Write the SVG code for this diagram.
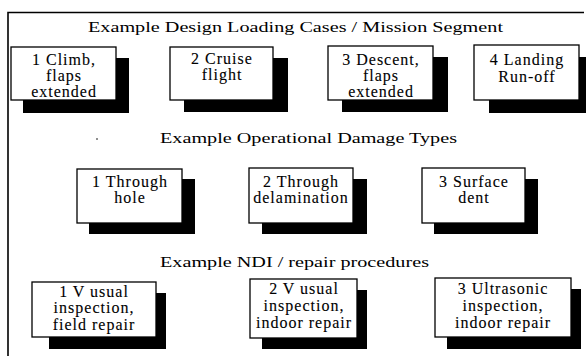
<svg xmlns="http://www.w3.org/2000/svg" width="586" height="356" viewBox="0 0 586 356">
<style>
  .title { font-family: "Liberation Serif", "Times New Roman", serif; font-size: 15.5px; fill: #000; text-anchor: start; }
  .lbl { font-family: "Liberation Serif", "Times New Roman", serif; font-size: 16px; letter-spacing: 1px; fill: #000; stroke: #000; stroke-width: 0.1; text-anchor: middle; }
  .box { fill: #fff; stroke: #000; stroke-width: 1.3; }
  .shadow { fill: #000; }
  .frame { fill: none; stroke: #000; stroke-width: 1.6; }
</style>
<rect x="0" y="0" width="586" height="356" fill="#fff"/>
<path class="frame" d="M8,356 L8,12.5 L584,12.5"/>
<circle cx="97" cy="139" r="0.8" fill="#000"/>

<text class="title" x="88" y="32" textLength="415" lengthAdjust="spacingAndGlyphs">Example Design Loading Cases / Mission Segment</text>
<text class="title" x="160" y="143" textLength="297" lengthAdjust="spacingAndGlyphs">Example Operational Damage Types</text>
<text class="title" x="160" y="267" textLength="269" lengthAdjust="spacingAndGlyphs">Example NDI / repair procedures</text>

<g id="climb">
  <rect class="shadow" x="23" y="58" width="106" height="55"/>
  <rect class="box" x="11" y="47" width="105" height="53"/>
  <text class="lbl" x="64" y="65">1 Climb,</text>
  <text class="lbl" x="64" y="81">flaps</text>
  <text class="lbl" x="64" y="97">extended</text>
</g>
<g id="cruise">
  <rect class="shadow" x="184" y="58" width="104" height="54"/>
  <rect class="box" x="170" y="47" width="103" height="53"/>
  <text class="lbl" x="222" y="64">2 Cruise</text>
  <text class="lbl" x="222" y="80">flight</text>
</g>
<g id="descent">
  <rect class="shadow" x="342" y="57" width="106" height="55"/>
  <rect class="box" x="328" y="46" width="105" height="54"/>
  <text class="lbl" x="381" y="65">3 Descent,</text>
  <text class="lbl" x="381" y="81">flaps</text>
  <text class="lbl" x="381" y="97">extended</text>
</g>
<g id="landing">
  <rect class="shadow" x="489" y="57" width="105" height="56"/>
  <rect class="box" x="474" y="45" width="105" height="55"/>
  <text class="lbl" x="527" y="65">4 Landing</text>
  <text class="lbl" x="527" y="82">Run-off</text>
</g>

<g id="hole">
  <rect class="shadow" x="89" y="179" width="106" height="55"/>
  <rect class="box" x="77" y="169" width="105" height="54"/>
  <text class="lbl" x="130" y="187">1 Through</text>
  <text class="lbl" x="130" y="203">hole</text>
</g>
<g id="delamination">
  <rect class="shadow" x="262" y="179" width="105" height="55"/>
  <rect class="box" x="249" y="168" width="104" height="55"/>
  <text class="lbl" x="301" y="187">2 Through</text>
  <text class="lbl" x="301" y="203">delamination</text>
</g>
<g id="dent">
  <rect class="shadow" x="434" y="179" width="104" height="55"/>
  <rect class="box" x="422" y="168" width="103" height="55"/>
  <text class="lbl" x="474" y="187">3 Surface</text>
  <text class="lbl" x="474" y="203">dent</text>
</g>

<g id="field">
  <rect class="shadow" x="49" y="293" width="117" height="56"/>
  <rect class="box" x="32" y="282" width="124" height="55"/>
  <text class="lbl" x="94" y="297">1 V usual</text>
  <text class="lbl" x="94" y="313">inspection,</text>
  <text class="lbl" x="94" y="330">field repair</text>
</g>
<g id="indoor">
  <rect class="shadow" x="262" y="290" width="105" height="59"/>
  <rect class="box" x="250" y="279" width="107" height="59"/>
  <text class="lbl" x="304" y="294">2 V usual</text>
  <text class="lbl" x="304" y="311">inspection,</text>
  <text class="lbl" x="304" y="328">indoor repair</text>
</g>
<g id="ultrasonic">
  <rect class="shadow" x="447" y="289" width="134" height="60"/>
  <rect class="box" x="435" y="278" width="136" height="59"/>
  <text class="lbl" x="503" y="294">3 Ultrasonic</text>
  <text class="lbl" x="503" y="311">inspection,</text>
  <text class="lbl" x="503" y="328">indoor repair</text>
</g>
<g id="connectors"/>
</svg>
